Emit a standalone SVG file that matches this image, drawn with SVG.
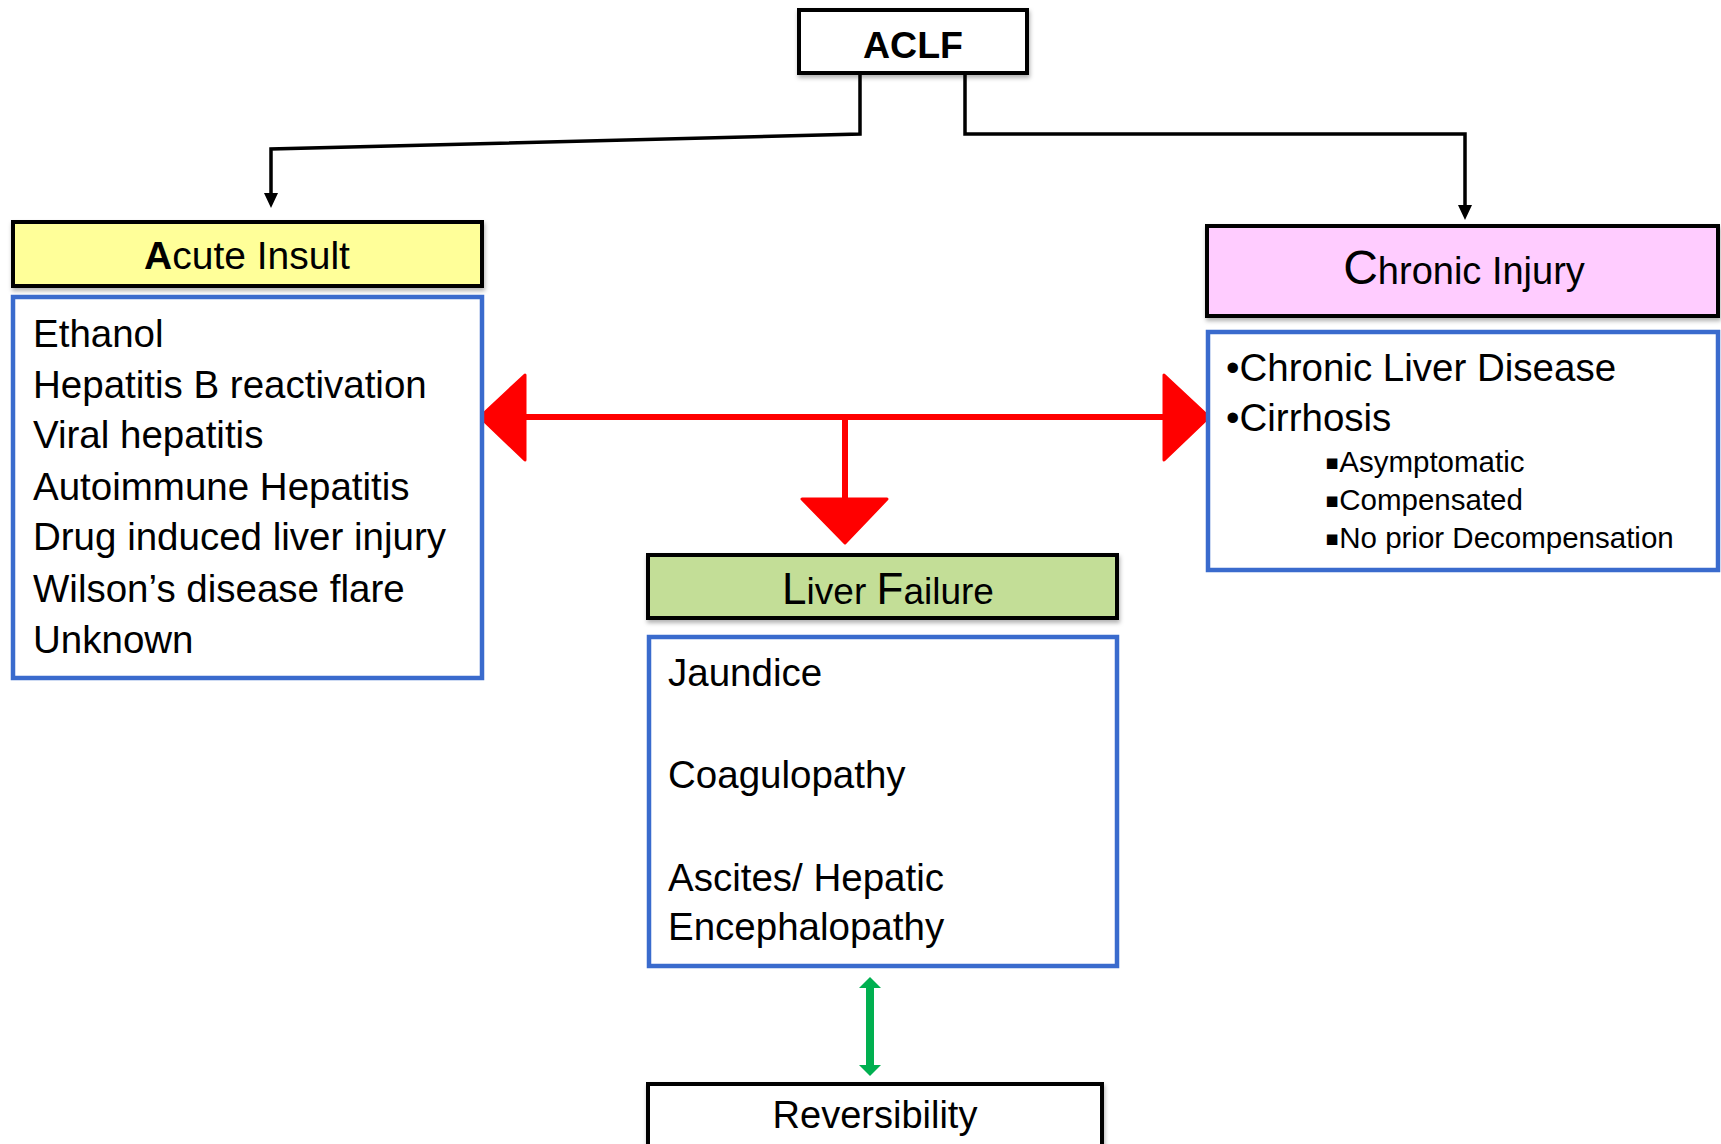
<svg xmlns="http://www.w3.org/2000/svg" width="1721" height="1144" viewBox="0 0 1721 1144">
<defs>
<filter id="sh" x="-5%" y="-20%" width="110%" height="150%">
<feDropShadow dx="1" dy="3" stdDeviation="2" flood-color="#000" flood-opacity="0.3"/>
</filter>
</defs>
<style>
text{font-family:"Liberation Sans",Arial,sans-serif;fill:#000}
.hdr{stroke:#000;stroke-width:4}
.lst{fill:#fff;stroke:#3A6BCD;stroke-width:4.5}
.t{font-size:38.5px}
.s{font-size:29.5px}
.sq{font-family:"DejaVu Sans",sans-serif;font-size:21px}
.blk{fill:none;stroke:#000;stroke-width:3.5}
.red{fill:#FF0000;stroke:#FF0000;stroke-width:3;stroke-linejoin:round}
</style>

<g id="connectors">
<polyline class="blk" points="860,62 860,134 271,149 271,193"/>
<path d="M264,193 L278,193 L271,208 Z" fill="#000"/>
<polyline class="blk" points="965,62 965,134 1465,134 1465,205"/>
<path d="M1458,205 L1472,205 L1465,220 Z" fill="#000"/>
<line x1="520" y1="417" x2="1170" y2="417" stroke="#FF0000" stroke-width="6"/>
<polygon class="red" points="480,417 525,375 525,460"/>
<polygon class="red" points="1209,417 1164,375 1164,460"/>
<line x1="845" y1="417" x2="845" y2="500" stroke="#FF0000" stroke-width="6"/>
<polygon class="red" points="802,499 887,499 845,543"/>
<rect x="866" y="987" width="8" height="80" fill="#00B050"/>
<polygon points="870,977 881,988 859,988" fill="#00B050"/>
<polygon points="870,1076 881,1065 859,1065" fill="#00B050"/>
</g>

<g id="aclf">
<rect x="799" y="10" width="228" height="63" fill="#fff" class="hdr" filter="url(#sh)"/>
<text x="913" y="58" font-size="37.5" font-weight="bold" text-anchor="middle">ACLF</text>
</g>

<g id="acute-insult">
<rect x="13" y="222" width="469" height="64" fill="#FFFF99" class="hdr" filter="url(#sh)"/>
<text x="247" y="269" font-size="39" text-anchor="middle"><tspan font-weight="bold">A</tspan>cute Insult</text>
</g>

<g id="acute-list">
<rect x="13" y="297" width="469" height="381" class="lst"/>
<text class="t" x="33" y="347">Ethanol</text>
<text class="t" x="33" y="398">Hepatitis B reactivation</text>
<text class="t" x="33" y="448">Viral hepatitis</text>
<text class="t" x="33" y="500">Autoimmune Hepatitis</text>
<text class="t" x="33" y="550">Drug induced liver injury</text>
<text class="t" x="33" y="602">Wilson’s disease flare</text>
<text class="t" x="33" y="653">Unknown</text>
</g>

<g id="chronic-injury">
<rect x="1207" y="226" width="511" height="90" fill="#FFCCFF" class="hdr" filter="url(#sh)"/>
<text x="1464" y="284" font-size="38" text-anchor="middle"><tspan font-size="48">C</tspan>hronic Injury</text>
</g>

<g id="chronic-list">
<rect x="1208" y="332" width="510" height="238" class="lst"/>
<text class="t" x="1226" y="381">•Chronic Liver Disease</text>
<text class="t" x="1226" y="431">•Cirrhosis</text>
<text class="s" x="1325" y="472"><tspan class="sq" dy="-3">▪</tspan><tspan dy="3">Asymptomatic</tspan></text>
<text class="s" x="1325" y="510"><tspan class="sq" dy="-3">▪</tspan><tspan dy="3">Compensated</tspan></text>
<text class="s" x="1325" y="548"><tspan class="sq" dy="-3">▪</tspan><tspan dy="3">No prior Decompensation</tspan></text>
</g>

<g id="liver-failure">
<rect x="648" y="555" width="469" height="63" fill="#C3DE97" class="hdr" filter="url(#sh)"/>
<text x="888" y="604" font-size="37" text-anchor="middle"><tspan font-size="44">L</tspan>iver <tspan font-size="44">F</tspan>ailure</text>
</g>

<g id="liver-list">
<rect x="649" y="637" width="468" height="329" class="lst"/>
<text class="t" x="668" y="686">Jaundice</text>
<text class="t" x="668" y="788">Coagulopathy</text>
<text class="t" x="668" y="891">Ascites/ Hepatic</text>
<text class="t" x="668" y="940">Encephalopathy</text>
</g>

<g id="reversibility">
<rect x="648" y="1084" width="454" height="80" fill="#fff" class="hdr" filter="url(#sh)"/>
<text x="875" y="1128" font-size="38" text-anchor="middle">Reversibility</text>
</g>
</svg>
